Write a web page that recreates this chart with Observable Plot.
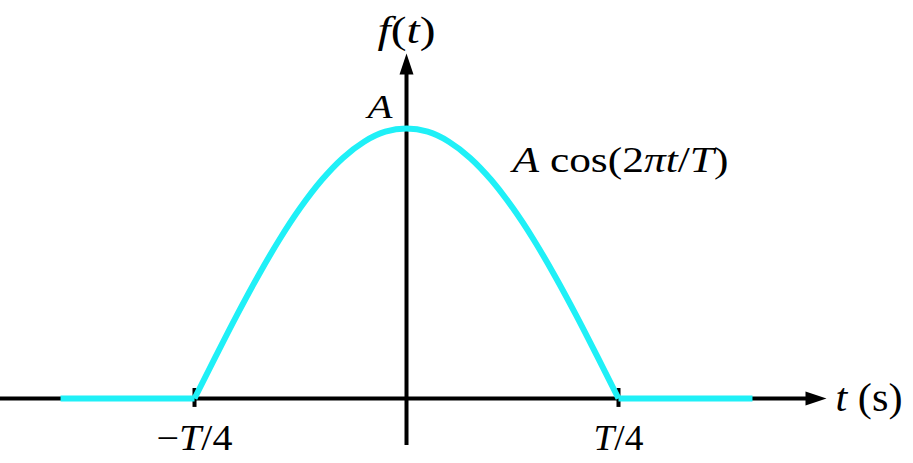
<!DOCTYPE html>
<html>
<head>
<meta charset="utf-8">
<script src="https://cdn.jsdelivr.net/npm/d3@7"></script>
<script src="https://cdn.jsdelivr.net/npm/@observablehq/plot@0.6"></script>
<style>
  html, body { margin: 0; padding: 0; background: #fff; }
  #chart { width: 913px; height: 463px; overflow: hidden; }
  #chart svg text { font-family: "Liberation Serif", "Times New Roman", serif; }
</style>
</head>
<body>
<div id="chart"></div>
<script>
// ---- data (t in units of T, f in units of A) ----
const curveT = [-0.25, -0.225, -0.2, -0.175, -0.15, -0.125, -0.1, -0.075, -0.05, -0.025, 0,
                0.025, 0.05, 0.075, 0.1, 0.125, 0.15, 0.175, 0.2, 0.225, 0.25];
const curveF = [0, 0.156, 0.309, 0.454, 0.588, 0.707, 0.809, 0.891, 0.951, 0.988, 1,
                0.988, 0.951, 0.891, 0.809, 0.707, 0.588, 0.454, 0.309, 0.156, 0];
const flatSegment = ["left", "left", "right", "right"];
const flatT = [-0.408, -0.25, 0.25, 0.408];
const flatF = [0, 0, 0, 0];
const tickValues = [-0.25, 0.25];
const tickLabels = ["−T/4", "T/4"];
const peakValue = 1;
const peakLabel = "A";
const curveLabel = "A cos(2πt/T)";
const curveLabelT = 0.125;
const curveLabelF = 0.88;
const xAxisLabel = "t (s)";
const yAxisLabel = "f(t)";
const xAxisExtent = [-0.479, 0.4953];
const yAxisExtent = [-0.174, 1.2778];

// ---- build tables ----
const curve = curveT.map((t, i) => ({t, f: curveF[i]}));
const flat = flatT.map((t, i) => ({t, f: flatF[i], s: flatSegment[i]}));
const ticks = tickValues.map((t, i) => ({t, label: tickLabels[i]}));

// rich-text segments (italic parts) and typeset widths
const rich = {
  "−T/4": [["−", 0], ["T", 1], ["/4", 0]],
  "T/4": [["T", 1], ["/4", 0]],
  "t (s)": [["t", 1], [" (s)", 0]],
  "f(t)": [["f", 1], ["(", 0], ["t", 1], [")", 0]],
  "A": [["A", 1]],
  "A cos(2πt/T)": [["A", 1], [" cos(2", 0], ["π", 1], ["t", 1], ["/", 0], ["T", 1], [")", 0]]
};
const textWidths = {"−T/4": 76, "T/4": 50, "t (s)": 67, "f(t)": 58, "A": 25, "A cos(2πt/T)": 216};

const cyan = "#1ff0f7";

const arrowHead = {
  draw(context) {
    context.moveTo(0, 0);
    context.lineTo(7, 21);
    context.lineTo(-7, 21);
    context.closePath();
  }
};

const chart = Plot.plot({
  width: 913,
  height: 463,
  marginTop: 0, marginBottom: 0, marginLeft: 0, marginRight: 0,
  style: {background: "#fff", fontFamily: "Liberation Serif"},
  x: {domain: [-0.4788, 0.5979], axis: null},
  y: {domain: [-0.2407, 1.474], axis: null},
  marks: [
    // axes
    Plot.ruleY([0], {x1: xAxisExtent[0], x2: xAxisExtent[1] - 0.01, stroke: "#000", strokeWidth: 4}),
    Plot.ruleX([0], {y1: yAxisExtent[0], y2: yAxisExtent[1] - 0.03, stroke: "#000", strokeWidth: 4}),
    Plot.dot([xAxisExtent[1]], {x: d => d, y: 0, symbol: arrowHead, fill: "#000", stroke: null, rotate: 90}),
    Plot.dot([yAxisExtent[1]], {x: 0, y: d => d, symbol: arrowHead, fill: "#000", stroke: null, rotate: 0}),
    // ticks
    Plot.ruleX(ticks, {x: "t", y1: 0.037, y2: -0.033, stroke: "#000", strokeWidth: 4}),
    // signal
    Plot.line(flat, {x: "t", y: "f", z: "s", stroke: cyan, strokeWidth: 6, strokeLinecap: "butt"}),
    Plot.line(curve, {x: "t", y: "f", stroke: cyan, strokeWidth: 6, curve: "monotone-x", strokeLinecap: "butt"}),
    // labels
    Plot.text(ticks, {x: "t", y: 0, text: "label", dy: 40, fontSize: 35, fill: "#000"}),
    Plot.text([xAxisLabel], {x: xAxisExtent[1], y: 0, text: d => d, textAnchor: "start", dx: 9, dy: 0, fontSize: 40, fill: "#000"}),
    Plot.text([yAxisLabel], {x: 0, y: yAxisExtent[1], text: d => d, dy: -22, fontSize: 37, fill: "#000"}),
    Plot.text([peakLabel], {x: 0, y: peakValue, text: d => d, textAnchor: "end", dx: -14, dy: -21, fontSize: 34, fill: "#000"}),
    Plot.text([curveLabel], {x: curveLabelT, y: curveLabelF, text: d => d, textAnchor: "start", fontSize: 35, fill: "#000"})
  ]
});

// apply italic segments and widths
d3.select(chart).selectAll("text").each(function () {
  const s = this.textContent;
  const el = d3.select(this);
  el.style("font-family", "'Liberation Serif', 'Times New Roman', serif");
  if (rich[s]) {
    el.text(null);
    for (const [str, it] of rich[s]) {
      el.append("tspan").attr("font-style", it ? "italic" : "normal").text(str);
    }
  }
  if (textWidths[s]) el.attr("textLength", textWidths[s]).attr("lengthAdjust", "spacingAndGlyphs");
});

document.getElementById("chart").appendChild(chart);
</script>
</body>
</html>
